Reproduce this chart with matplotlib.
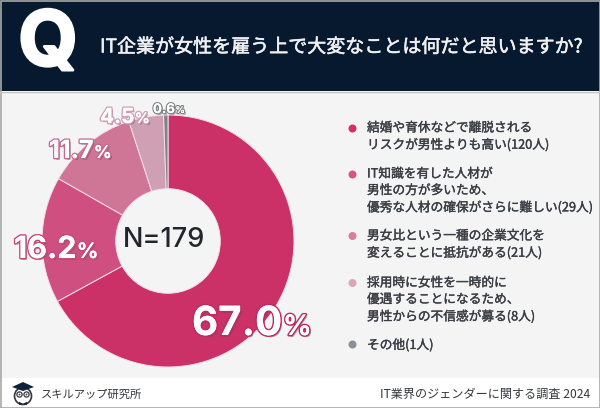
import matplotlib
matplotlib.use('Agg')
import matplotlib.pyplot as plt
import matplotlib.patheffects as pe
from matplotlib.patches import Rectangle, Circle, Polygon

plt.rcParams['font.family'] = ['Noto Sans CJK JP', 'DejaVu Sans']

title = 'IT企業が女性を雇う上で大変なことは何だと思いますか?'
counts = [120, 29, 21, 8, 1]
pct_nums = ['67.0', '16.2', '11.7', '4.5', '0.6']
legend_labels = ['結婚や育休などで離脱される\nリスクが男性よりも高い(120人)',
                 'IT知識を有した人材が\n男性の方が多いため、\n優秀な人材の確保がさらに難しい(29人)',
                 '男女比という一種の企業文化を\n変えることに抵抗がある(21人)',
                 '採用時に女性を一時的に\n優遇することになるため、\n男性からの不信感が募る(8人)',
                 'その他(1人)']
colors = ['#cb3066', '#cf5080', '#cf7595', '#cfa0b4', '#7f8487']
dot_colors = ['#d92c66', '#dc5285', '#dd7b9c', '#dca6ba', '#8b9096']

W, H = 600, 408
fig = plt.figure(figsize=(6, 4.08), dpi=100, facecolor='white')
bg = fig.add_axes([0, 0, 1, 1])
bg.set_xlim(0, W)
bg.set_ylim(H, 0)
bg.axis('off')

# panels
bg.add_patch(Rectangle((0, 92), W, 286, fc='#f4f4f4', ec='none'))
bg.add_patch(Rectangle((0, 0), W, 91, fc='#06192f', ec='none'))
bg.add_patch(Rectangle((0.5, 0.5), W - 1, H - 1, fc='none', ec='#a8a8a8', lw=1.2))
bg.plot([0, W], [91.5, 91.5], color='#c4c4c4', lw=1)

# header
bg.text(48, 46, 'Q', color='white', fontsize=55, fontweight='bold', family='Inter',
        ha='center', va='center',
        path_effects=[pe.withStroke(linewidth=2, foreground='white')])
bg.text(100, 47, title, color='#f0f0f2', fontsize=13.7, ha='left', va='center',
        path_effects=[pe.withStroke(linewidth=0.4, foreground='#f0f0f2')])

# donut
cx, cy, r = 168, 241, 126
pie_ax = fig.add_axes([(cx - r - 2) / W, 1 - (cy + r + 2) / H, (2 * r + 4) / W, (2 * r + 4) / H])
pie_ax.pie(counts, colors=colors, startangle=90, counterclock=False, radius=1,
           wedgeprops=dict(width=0.585, edgecolor='#f4dfe6', linewidth=0.7))
pie_ax.set_xlim(-(r + 2) / r, (r + 2) / r)
pie_ax.set_ylim(-(r + 2) / r, (r + 2) / r)
pie_ax.set_aspect('equal')
pie_ax.patch.set_alpha(0)

over = fig.add_axes([0, 0, 1, 1])
over.set_xlim(0, W)
over.set_ylim(H, 0)
over.axis('off')
over.patch.set_alpha(0)
over.text(164, 240, 'N=179', color='#22252b', fontsize=19.5, fontweight='medium',
          family='Inter', ha='center', va='center')

edge_for = dict(zip(pct_nums, ['#c02a5e', '#c84a78', '#c8688c', '#cfa0b4', '#7f8487']))


def pct_label(x, y, num, fs, stroke):
    fx = dict(family='Inter', fontweight='bold', color='white', va='baseline')
    effects = [pe.SimplePatchShadow(offset=(1.3, -1.3), shadow_rgbFace='#555555', alpha=0.5),
               pe.withStroke(linewidth=stroke, foreground=edge_for[num]),
               pe.Normal()]
    t = over.text(x, y, num, fontsize=fs, ha='left', path_effects=effects, **fx)
    fig.canvas.draw()
    ext = t.get_window_extent()
    over.text(ext.x1 + 0.5, y, '%', fontsize=fs * 0.7, ha='left', path_effects=effects, **fx)


pct_label(192, 335, pct_nums[0], 29, 2.2)
pct_label(14, 258, pct_nums[1], 22, 2.2)
pct_label(49, 158, pct_nums[2], 18, 2.0)
pct_label(100, 123, pct_nums[3], 15, 2.0)
pct_label(153, 113, pct_nums[4], 9.5, 1.8)

# legend
legend_y = [128, 174, 236, 283, 345]
dot_y = [128.5, 174.5, 236, 283, 344.5]
for ly, dy, lab, col in zip(legend_y, dot_y, legend_labels, dot_colors):
    over.add_patch(Circle((352.5, dy), 4, fc=col, ec='none'))
    over.text(367, ly - 6.5, lab, color='#3a3d44', fontsize=9.15, ha='left', va='top',
              linespacing=1.36,
              path_effects=[pe.withStroke(linewidth=0.25, foreground='#3a3d44')])

# footer
over.text(590, 394, 'IT業界のジェンダーに関する調査 2024', color='#33363b', fontsize=8.7,
          ha='right', va='center')
over.text(41, 394.5, 'スキルアップ研究所', color='#33363b', fontsize=8.1, ha='left', va='center')

# owl logo
over.add_patch(Circle((23, 396), 8.5, fc='white', ec='#33363b', lw=1.2))
over.add_patch(Polygon([[12, 387], [23, 382], [34, 387], [23, 391]], fc='#0f2238', ec='none'))
for ex in (19.5, 26.5):
    over.add_patch(Circle((ex, 394.5), 2.6, fc='white', ec='#33363b', lw=0.9))
    over.add_patch(Circle((ex, 394.5), 0.9, fc='#33363b', ec='none'))
over.add_patch(Polygon([[19, 402], [23, 403.5], [27, 402], [27, 405], [23, 403.5], [19, 405]],
                       fc='#0f2238', ec='none'))

fig.savefig('out.png', dpi=100)
